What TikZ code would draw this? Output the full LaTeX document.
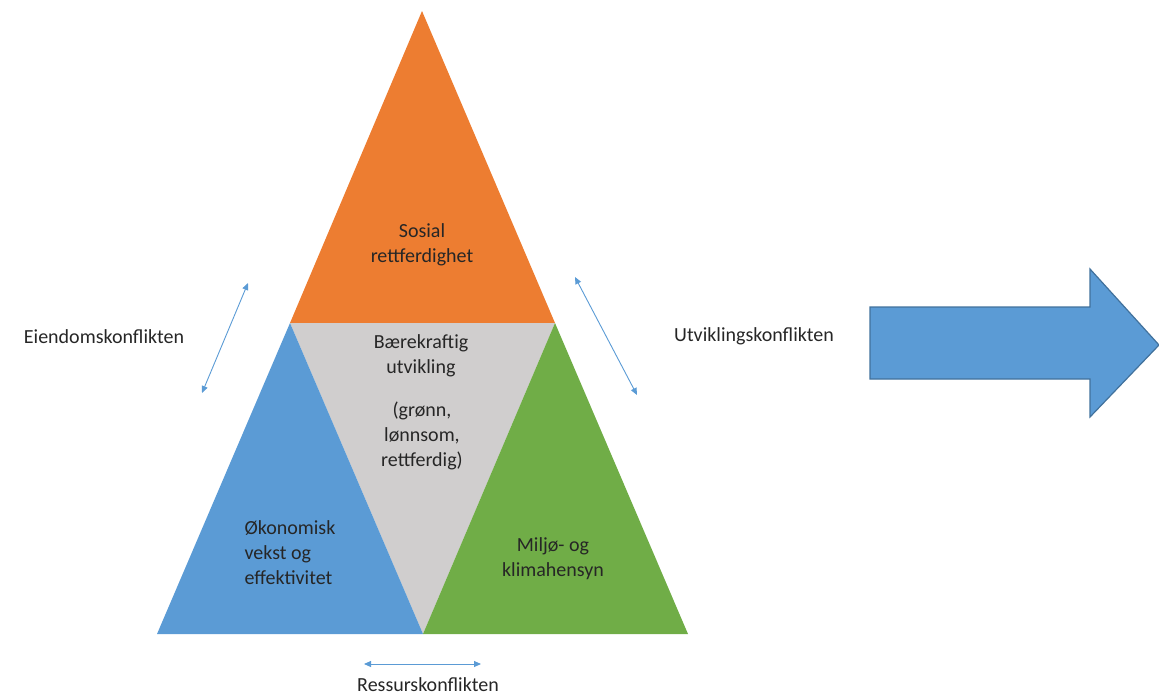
\documentclass[tikz,border=0pt]{standalone}
\usepackage{fontspec}
\setmainfont{Carlito}
\usetikzlibrary{arrows.meta}
\definecolor{cOrange}{HTML}{ED7D31}
\definecolor{cGrey}{HTML}{D0CECE}
\definecolor{cBlue}{HTML}{5B9BD5}
\definecolor{cGreen}{HTML}{70AD47}
\definecolor{cBorder}{HTML}{41719C}
\definecolor{cText}{HTML}{262626}
\tikzset{
  lbl/.style={text=cText, font=\fontsize{20}{25}\selectfont, inner sep=0pt, align=center},
  lblL/.style={lbl, align=left},
  dbl/.style={draw=cBlue, line width=0.9pt, {Triangle[length=7pt,width=6pt]}-{Triangle[length=7pt,width=6pt]}},
}
\begin{document}
\begin{tikzpicture}[x=1pt,y=-1pt]
\useasboundingbox (0,0) rectangle (1159,699);
% triangle corners
\coordinate (T) at (422,11);
\coordinate (L) at (290,323);
\coordinate (R) at (555,323);
\coordinate (BL) at (157,634);
\coordinate (BM) at (423,634);
\coordinate (BR) at (688,634);
\fill[cOrange] (T) -- (R) -- (L) -- cycle;
\fill[cGrey] (L) -- (R) -- (BM) -- cycle;
\fill[cBlue] (L) -- (BM) -- (BL) -- cycle;
\fill[cGreen] (R) -- (BR) -- (BM) -- cycle;
% big arrow
\draw[fill=cBlue, draw=cBorder, line width=1.2pt, line join=miter]
  (870,307) -- (1090,307) -- (1090,269) -- (1159,345) -- (1090,417) -- (1090,379) -- (870,379) -- cycle;
% texts
\node[lbl] (sos) at (422,245) {Sosial\\rettferdighet};
\node[lbl] (bae) at (421,356) {Bærekraftig\\utvikling};
\node[lbl] (gro) at (422,436) {(grønn,\\lønnsom,\\rettferdig)};
\node[lblL] (oko) at (290,553) {Økonomisk\\vekst og\\effektivitet};
\node[lbl] (mil) at (553,559) {Miljø- og\\klimahensyn};
\node[lbl] (eie) at (104,337) {Eiendomskonflikten};
\node[lbl] (utv) at (754,336) {Utviklingskonflikten};
\node[lbl] (res) at (428,685) {Ressurskonflikten};
% double arrows
\coordinate (a1) at (248,283);
\coordinate (a2) at (202,393);
\coordinate (b1) at (575,277);
\coordinate (b2) at (637,395);
\coordinate (c1) at (364,664);
\coordinate (c2) at (481,664);
\draw[dbl] (a1) -- (a2);
\draw[dbl] (b1) -- (b2);
\draw[dbl] (c1) -- (c2);
\end{tikzpicture}
\end{document}
